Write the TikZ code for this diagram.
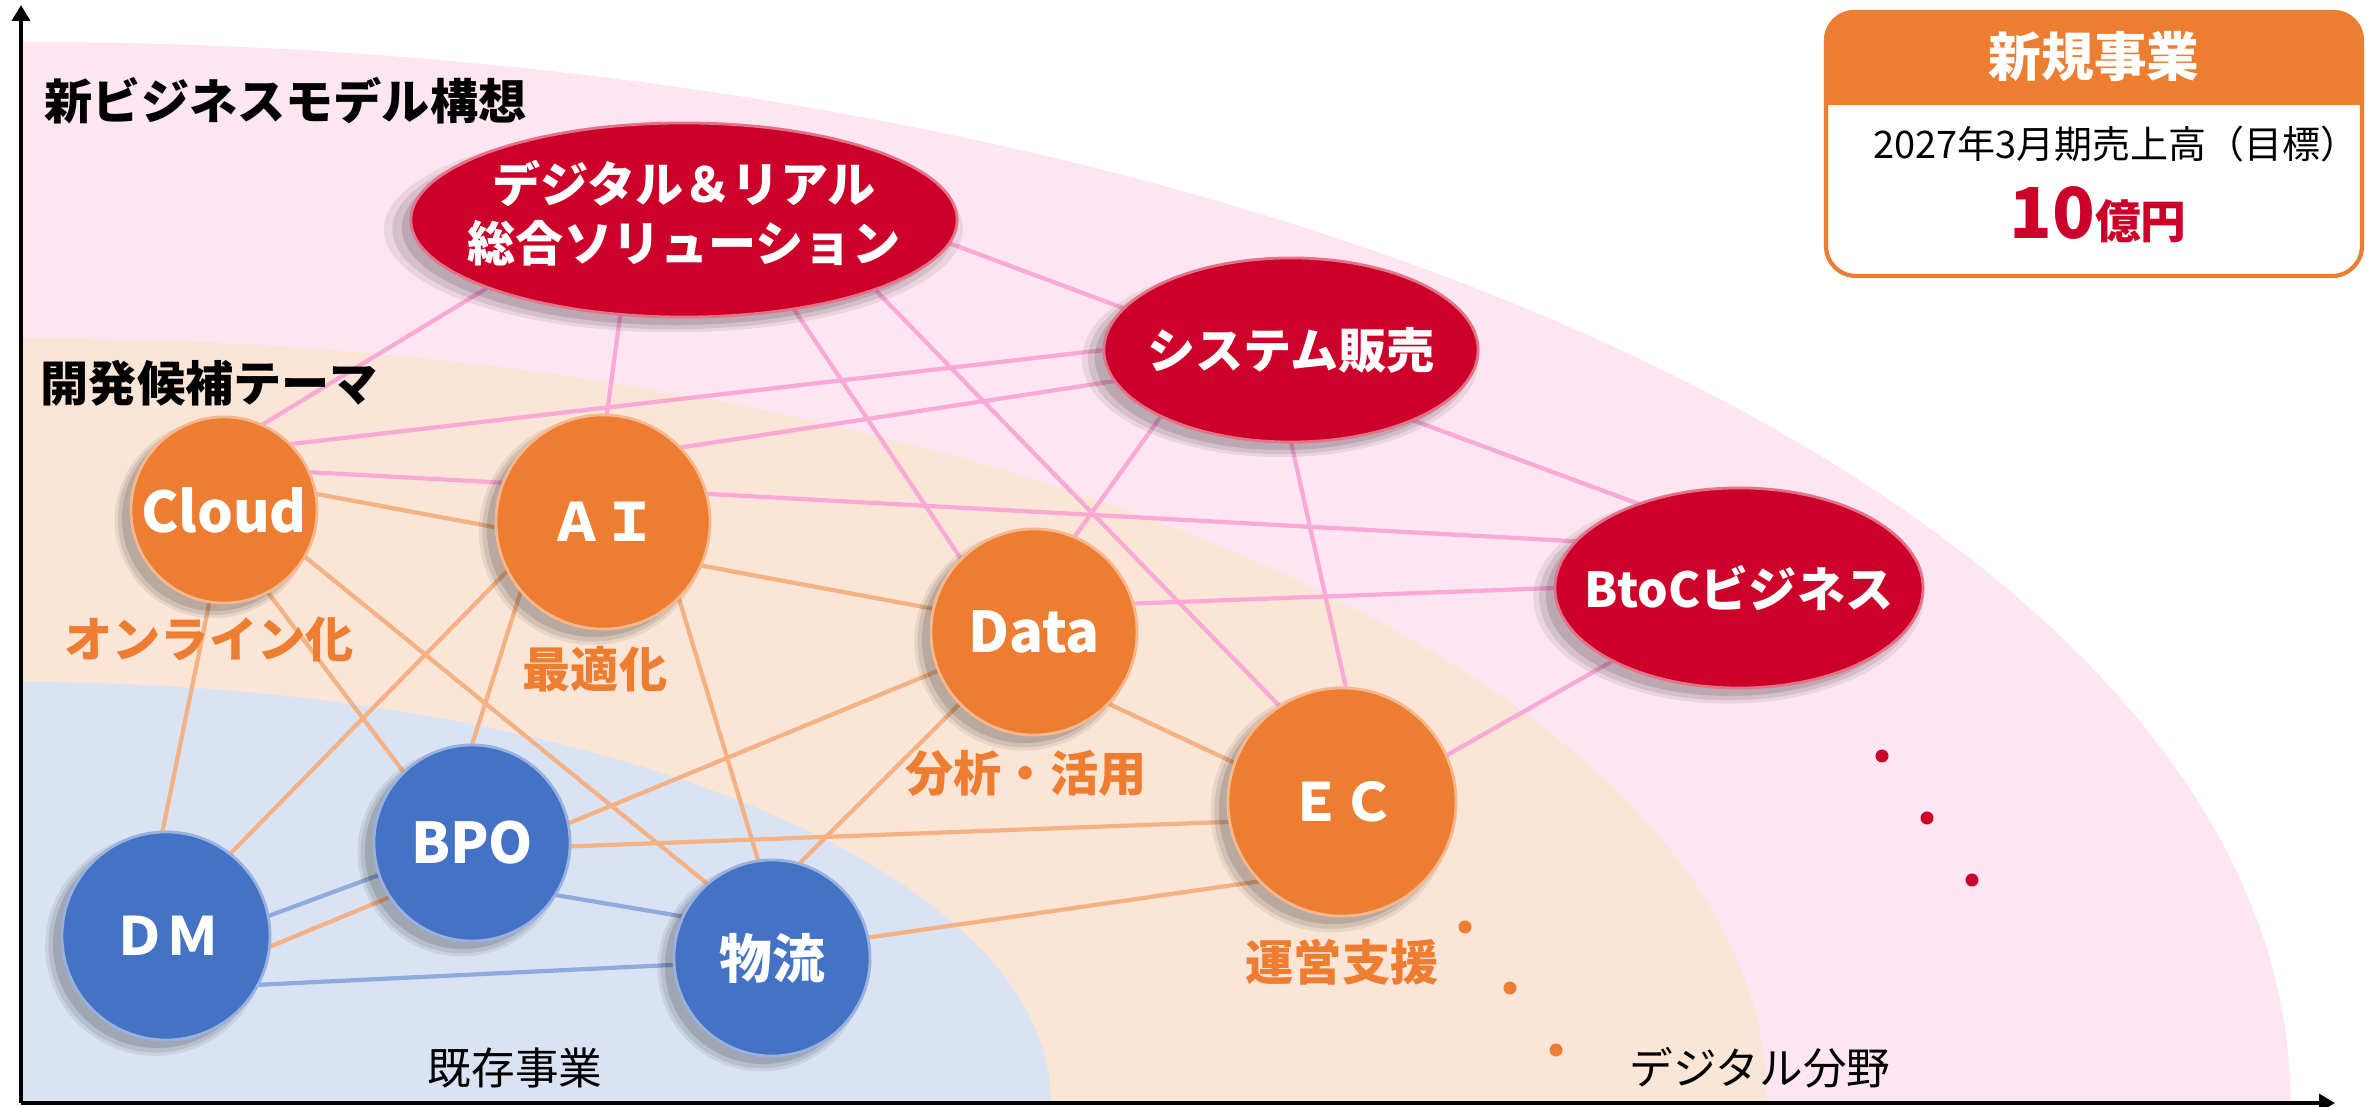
\documentclass[tikz,border=0pt]{standalone}
\usepackage{fontspec}
\setmainfont{Noto Sans CJK JP}
\usetikzlibrary{arrows.meta,shapes.geometric,shadows}
\pgfdeclarelayer{regions}
\pgfdeclarelayer{links}
\pgfsetlayers{regions,links,main}

\begin{document}
\begin{tikzpicture}[x=0.01cm,y=-0.01cm,
    softshadow/.style={general shadow={shadow xshift=-0.1cm, shadow yshift=-0.09cm,
        shadow scale=1.06, fill=black, opacity=0.07},
      general shadow={shadow xshift=-0.1cm, shadow yshift=-0.09cm,
        shadow scale=1.03, fill=black, opacity=0.09},
      general shadow={shadow xshift=-0.09cm, shadow yshift=-0.08cm,
        fill=black, opacity=0.12}},
    ball/.style={circle, inner sep=0pt, outer sep=0pt, text=white, softshadow,
      font=\bfseries\fontsize{15}{18}\selectfont},
    latin/.style={font=\bfseries\fontsize{16}{19}\selectfont},
    redball/.style={ball, ellipse, fill=nodered, draw=white!45!nodered, line width=0.8pt,
      font=\bfseries\fontsize{13.7}{16.8}\selectfont},
    orangeball/.style={ball, fill=nodeorange, draw=white!45!nodeorange, line width=0.8pt},
    blueball/.style={ball, fill=nodeblue, draw=white!45!nodeblue, line width=0.8pt},
    pinklink/.style={draw=linkpink, line width=1.2pt},
    orangelink/.style={draw=linkorange, line width=1.2pt},
    bluelink/.style={draw=linkblue, line width=1.2pt},
    heading/.style={anchor=west, inner sep=0pt, font=\bfseries\fontsize{13.7}{16}\selectfont},
    themelabel/.style={inner sep=0pt, text=nodeorange, font=\bfseries\fontsize{13.7}{16}\selectfont},
    fieldlabel/.style={inner sep=0pt, font=\fontsize{12.4}{15}\selectfont},
    axis/.style={line width=1.3pt, -{Triangle[length=4.5pt,width=5pt]}}]

    % Define colors
    \definecolor{pinkbg}{RGB}{253,229,241}
    \definecolor{peachbg}{HTML}{FBE5D6}
    \definecolor{bluebg}{HTML}{DAE3F3}
    \definecolor{nodered}{RGB}{204,0,41}
    \definecolor{nodeorange}{HTML}{ED7D31}
    \definecolor{nodeblue}{HTML}{4472C4}
    \definecolor{linkpink}{RGB}{250,168,214}
    \definecolor{linkorange}{HTML}{F4B183}
    \definecolor{linkblue}{HTML}{8FAADC}

    \useasboundingbox (0,0) rectangle (2369,1107);

    % Draw background
    \begin{pgfonlayer}{regions}
        \fill[pinkbg] (21,1101) -- (21,42) arc[start angle=90, end angle=0,
            x radius=22.68cm, y radius=10.59cm] -- cycle;
        \fill[peachbg] (21,1101) -- (21,338) arc[start angle=90, end angle=0,
            x radius=17.45cm, y radius=7.63cm] -- cycle;
        \fill[bluebg] (21,1101) -- (21,682) arc[start angle=90, end angle=0,
            x radius=10.29cm, y radius=4.19cm] -- cycle;
    \end{pgfonlayer}

    % Draw axes
    \coordinate (origin) at (21,1103);
    \draw[axis] (origin) -- (21,5);
    \draw[axis] (origin) -- (2335,1103);

    % Headings and field names
    \node[heading] (newmodel) at (44,101) {新ビジネスモデル構想};
    \node[heading] (candidates) at (40,383) {開発候補テーマ};
    \node[fieldlabel] (existing) at (515,1068) {既存事業};
    \node[fieldlabel] (digital) at (1760,1068) {デジタル分野};

    % New business models
    \node[redball, minimum width=5.46cm, minimum height=1.94cm] (sol) at (684,220)
        {\makebox[0pt]{\begin{tabular}{@{}c@{}}デジタル＆リアル\\総合ソリューション\end{tabular}}};
    \node[redball, minimum width=3.74cm, minimum height=1.84cm] (sys) at (1291,350)
        {\makebox[0pt]{システム販売}};
    \node[redball, minimum width=3.68cm, minimum height=2cm] (btoc) at (1739,588)
        {\makebox[0pt]{BtoCビジネス}};

    % Development themes
    \node[orangeball, latin, minimum size=1.86cm] (cloud) at (224,510) {Cloud};
    \node[orangeball, minimum size=2.14cm] (ai) at (603,522) {ＡＩ};
    \node[orangeball, latin, minimum size=2.06cm] (data) at (1034,632) {Data};
    \node[orangeball, minimum size=2.28cm] (ec) at (1342,802) {ＥＣ};
    \node[themelabel] (online) at (209,639) {オンライン化};
    \node[themelabel] (optimize) at (595,669) {最適化};
    \node[themelabel] (analysis) at (1026,773) {分析・活用};
    \node[themelabel] (operation) at (1342,962) {運営支援};

    % Existing business
    \node[blueball, minimum size=2.08cm] (dm) at (166,936) {ＤＭ};
    \node[blueball, latin, minimum size=1.96cm] (bpo) at (472,843) {BPO};
    \node[blueball, minimum size=1.96cm] (logi) at (772,958) {物流};

    % Links
    \begin{pgfonlayer}{links}
        \draw[pinklink] (sol.199) -- (cloud.66);
        \draw[pinklink] (sol.236) -- (ai.88);
        \draw[pinklink] (sol.-39) -- (data.135);
        \draw[pinklink] (sol.-20) -- (ec.123);
        \draw[pinklink] (sol.-5) -- (sys.166);
        \draw[pinklink] (cloud.45) -- (sys.180);
        \draw[pinklink] (ai.44) -- (sys.190);
        \draw[pinklink] (sys.207) -- (data.67);
        \draw[pinklink] (sys.270) -- (ec.88);
        \draw[pinklink] (sys.-30) -- (btoc.140);
        \draw[pinklink] (cloud.24) -- (btoc.164);
        \draw[pinklink] (data.16) -- (btoc.180);
        \draw[pinklink] (ec.24) -- (btoc.210);
        \draw[orangelink] (cloud.10) -- (data.167);
        \draw[orangelink] (cloud.261) -- (dm.92);
        \draw[orangelink] (cloud.298) -- (bpo.134);
        \draw[orangelink] (cloud.330) -- (logi.131);
        \draw[orangelink] (ai.207) -- (dm.52);
        \draw[orangelink] (ai.220) -- (bpo.90);
        \draw[orangelink] (ai.315) -- (logi.98);
        \draw[orangelink] (dm.-6) -- (data.202);
        \draw[orangelink] (data.224) -- (logi.74);
        \draw[orangelink] (data.-44) -- (ec.160);
        \draw[orangelink] (bpo.-2) -- (ec.190);
        \draw[orangelink] (logi.12) -- (ec.224);
        \draw[bluelink] (dm.11) -- (bpo.199);
        \draw[bluelink] (bpo.-32) -- (logi.155);
        \draw[bluelink] (dm.-28) -- (logi.184);
    \end{pgfonlayer}

    % More to come
    \foreach \x/\y in {1465/927, 1510/988, 1556/1050}
        \fill[nodeorange] (\x,\y) circle (0.065cm);
    \foreach \x/\y in {1882/756, 1927/818, 1972/880}
        \fill[nodered] (\x,\y) circle (0.065cm);

    % Target box
    \begin{scope}
        \clip[rounded corners=0.3cm] (1824,10) rectangle (2364,278);
        \fill[nodeorange] (1824,10) rectangle (2364,105);
    \end{scope}
    \draw[nodeorange, line width=1.2pt, rounded corners=0.3cm] (1826,12) rectangle (2362,276);
    \node[text=white, font=\bfseries\fontsize{15}{18}\selectfont] (newbiz) at (2094,57) {新規事業};
    \node[font=\fontsize{10.8}{13}\selectfont] (period) at (2116,144) {2027年3月期売上高（目標）};
    \node[anchor=base, text=nodered, font=\bfseries] (target) at (2098,239)
        {{\fontsize{20}{24}\selectfont 10}{\fontsize{13}{16}\selectfont 億円}};
\end{tikzpicture}
\end{document}
